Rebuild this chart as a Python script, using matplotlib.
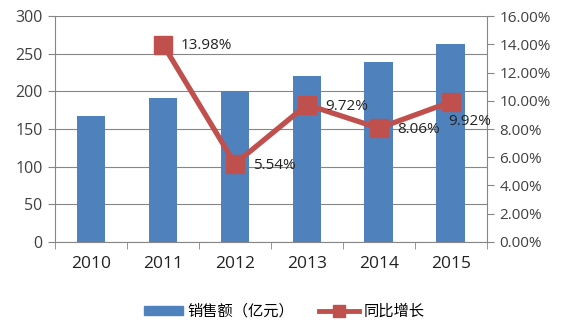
import matplotlib
matplotlib.use("Agg")
import matplotlib.pyplot as plt
from matplotlib.lines import Line2D
from matplotlib.patches import Patch
import numpy as np

plt.rcParams['font.family'] = ['Open Sans', 'Noto Sans CJK SC', 'DejaVu Sans']

years = ['2010', '2011', '2012', '2013', '2014', '2015']
sales = [167, 191, 201, 220, 239, 263]
growth_years = ['2011', '2012', '2013', '2014', '2015']
growth = [13.98, 5.54, 9.72, 8.06, 9.92]
growth_labels = ['13.98%', '5.54%', '9.72%', '8.06%', '9.92%']
left_ticks = [0, 50, 100, 150, 200, 250, 300]
right_ticks = [0, 2, 4, 6, 8, 10, 12, 14, 16]

bar_color = '#4F81BD'
line_color = '#C0504D'
grid_color = '#868686'

fig = plt.figure(figsize=(5.68, 3.27), dpi=100)
ax = fig.add_axes([0.097, 0.26, 0.76, 0.691])
x = np.arange(len(years))
ax.bar(x, sales, width=0.4, color=bar_color, zorder=2)
ax.set_xlim(-0.5, len(years) - 0.5)
ax.set_ylim(0, 300)
ax.set_yticks(left_ticks)
ax.set_yticklabels([str(v) for v in left_ticks], fontsize=11.5, color='#404040')
ax.yaxis.grid(True, color=grid_color, linewidth=0.8, zorder=0)
ax.set_axisbelow(True)
ax.set_xticks(x)
ax.set_xticklabels(years, fontsize=12.5, color='#222222')
ax.tick_params(axis='x', length=0, pad=10)
ax.set_xticks(np.arange(-0.5, len(years)), minor=True)
ax.tick_params(axis='x', which='minor', length=5, color=grid_color, direction='out')
ax.tick_params(axis='y', length=5, color=grid_color, pad=4)
for s in ['top', 'right']:
    ax.spines[s].set_visible(False)
ax.spines['left'].set_color(grid_color)
ax.spines['bottom'].set_color(grid_color)

ax2 = ax.twinx()
gx = [years.index(y) for y in growth_years]
ax2.plot(gx, growth, color=line_color, linewidth=3.8, marker='s', markersize=12.5,
         zorder=3)
ax2.set_ylim(0, 16)
ax2.set_yticks(right_ticks)
ax2.set_yticklabels([f'{v:.2f}%' for v in right_ticks], fontsize=11, color='#404040')
ax2.tick_params(axis='y', length=5, color=grid_color, pad=4)
for s in ['top', 'left', 'bottom']:
    ax2.spines[s].set_visible(False)
ax2.spines['right'].set_color(grid_color)
offsets = [(13, -1), (13, -1), (13, -1), (13, -1), (-2, -14)]
for xi, yi, lab, off in zip(gx, growth, growth_labels, offsets):
    ax2.annotate(lab, (xi, yi), xytext=off, textcoords='offset points',
                 ha='left', va='center', fontsize=11, color='#222222', zorder=4)

handles = [Patch(color=bar_color), Line2D([], [], color=line_color, linewidth=3.5,
                                          marker='s', markersize=8)]
fig.legend(handles, ['销售额（亿元）', '同比增长'], loc='center', bbox_to_anchor=(0.5, 0.045),
           ncol=2, frameon=False, fontsize=11, handlelength=2.6, handleheight=0.5,
           columnspacing=1.6, handletextpad=0.3)

fig.savefig('out.png', dpi=100)
